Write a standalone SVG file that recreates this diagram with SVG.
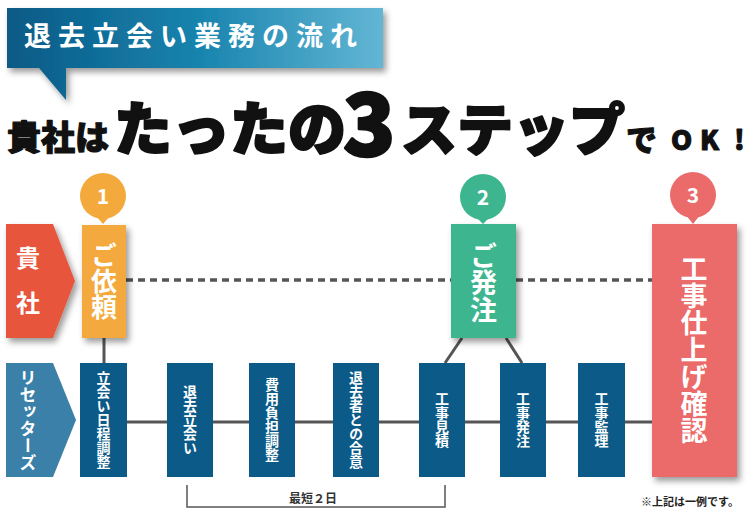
<svg xmlns="http://www.w3.org/2000/svg" width="750" height="510" viewBox="0 0 750 510">
<defs>
<linearGradient id="bg" x1="0" x2="1" y1="0" y2="0">
<stop offset="0" stop-color="#0c5a86"/>
<stop offset="0.5" stop-color="#1683ad"/>
<stop offset="1" stop-color="#63b6d4"/>
</linearGradient>
<filter id="sh" x="-30%" y="-20%" width="170%" height="150%">
<feDropShadow dx="3" dy="4" stdDeviation="3" flood-color="#000" flood-opacity="0.4"/>
</filter>
</defs>
<style>
.jp{font-family:"Noto Sans CJK JP","Noto Sans",sans-serif;font-weight:700}
.w{fill:#fff}
.v{writing-mode:vertical-rl;text-anchor:middle}
.db{fill:#0b5a87}
.ln{stroke:#555;stroke-width:3;fill:none}
.dot{stroke:#555;stroke-width:3.5;stroke-dasharray:7 5;fill:none}
.bt{font-size:14px}
.tt{font-weight:900;stroke:#111;stroke-linejoin:round}
</style>
<g id="banner">
<path d="M7,8 H383 V68 H66 V100 L39,68 H7 Z" fill="url(#bg)" filter="url(#sh)"/>
<text class="jp w" x="24" y="46" font-size="27" letter-spacing="7">退去立会い業務の流れ</text>
</g>
<g id="title" class="jp" fill="#111">
<text class="tt" x="7" y="150" font-size="34" stroke-width="1.2">貴社は</text>
<text class="tt" x="114" y="150" font-size="58" stroke-width="2.2">たったの</text>
<text class="tt" x="343" y="156" font-size="86" stroke-width="2.5">3</text>
<text class="tt" x="401" y="150" font-size="56" stroke-width="2.2">ステップ</text>
<text class="tt" x="626" y="151" font-size="31" stroke-width="1">で</text>
<text class="tt" x="671" y="150" font-size="27" stroke-width="1">O</text>
<text class="tt" x="700" y="150" font-size="27" stroke-width="1">K</text>
<text class="tt" x="734" y="150" font-size="27" stroke-width="1">!</text>
</g>
<g id="connectors">
<line class="dot" x1="126" y1="280" x2="451" y2="280"/>
<line class="dot" x1="516" y1="280" x2="652" y2="280"/>
<line class="ln" x1="127" y1="422" x2="652" y2="422"/>
<line class="ln" x1="104" y1="338" x2="104" y2="363"/>
<line class="ln" x1="462" y1="338" x2="445" y2="363"/>
<line class="ln" x1="506" y1="338" x2="522" y2="363"/>
<path d="M187,485 V507 H445 V485" stroke="#555" stroke-width="1.5" fill="none"/>
<text class="jp" x="313" y="503" font-size="12" fill="#333" text-anchor="middle">最短２日</text>
</g>
<g id="kisha">
<path d="M6,224 H53 L75,281 L53,338 H6 Z" fill="#e8553e" filter="url(#sh)"/>
<text class="jp w" x="28" y="267" font-size="24" text-anchor="middle">貴</text>
<text class="jp w" x="28" y="312" font-size="24" text-anchor="middle">社</text>
</g>
<g id="resetters">
<path d="M6,363 H53 L76,420 L53,477 H6 Z" fill="#3b80a9"/>
<text class="jp w v" x="28" y="420" font-size="17">リセッターズ</text>
</g>
<g id="step1">
<circle cx="103" cy="196" r="23" fill="#f3a93c"/>
<path d="M96,216 H110 L103,224 Z" fill="#f3a93c"/>
<text class="jp w" x="103" y="204" font-size="21" text-anchor="middle">1</text>
<rect x="82" y="225" width="44" height="113" fill="#f3a93c" filter="url(#sh)"/>
<text class="jp w v" x="104" y="281" font-size="26">ご依頼</text>
</g>
<g id="step2">
<circle cx="483" cy="197" r="23" fill="#3db58f"/>
<path d="M476,217 H490 L483,224 Z" fill="#3db58f"/>
<text class="jp w" x="483" y="205" font-size="21" text-anchor="middle">2</text>
<rect x="451" y="224" width="65" height="114" fill="#3db58f" filter="url(#sh)"/>
<text class="jp w v" x="483.5" y="283" font-size="27">ご発注</text>
</g>
<g id="step3">
<circle cx="693" cy="195" r="23" fill="#eb6a6a"/>
<path d="M686,215 H700 L693,224 Z" fill="#eb6a6a"/>
<text class="jp w" x="693" y="203" font-size="21" text-anchor="middle">3</text>
<rect x="652" y="224" width="85" height="253" fill="#eb6a6a" filter="url(#sh)"/>
<text class="jp w v" x="694" y="350" font-size="27">工事仕上げ確認</text>
</g>
<g id="b1"><rect class="db" x="80" y="363" width="47" height="114"/><text class="jp w v bt" x="103.5" y="420">立会い日程調整</text></g>
<g id="b2"><rect class="db" x="167" y="363" width="46" height="114"/><text class="jp w v bt" x="190" y="420">退去立会い</text></g>
<g id="b3"><rect class="db" x="249" y="363" width="46" height="114"/><text class="jp w v bt" x="272" y="420">費用負担調整</text></g>
<g id="b4"><rect class="db" x="333" y="363" width="46" height="114"/><text class="jp w v bt" x="356" y="420">退去者との合意</text></g>
<g id="b5"><rect class="db" x="419" y="363" width="46" height="114"/><text class="jp w v bt" x="442" y="420">工事見積</text></g>
<g id="b6"><rect class="db" x="500" y="363" width="46" height="114"/><text class="jp w v bt" x="523" y="420">工事発注</text></g>
<g id="b7"><rect class="db" x="578" y="363" width="47" height="114"/><text class="jp w v bt" x="601.5" y="420">工事監理</text></g>
<text id="note" class="jp" x="690" y="506" font-size="11" fill="#222" text-anchor="middle">※上記は一例です。</text>
</svg>
